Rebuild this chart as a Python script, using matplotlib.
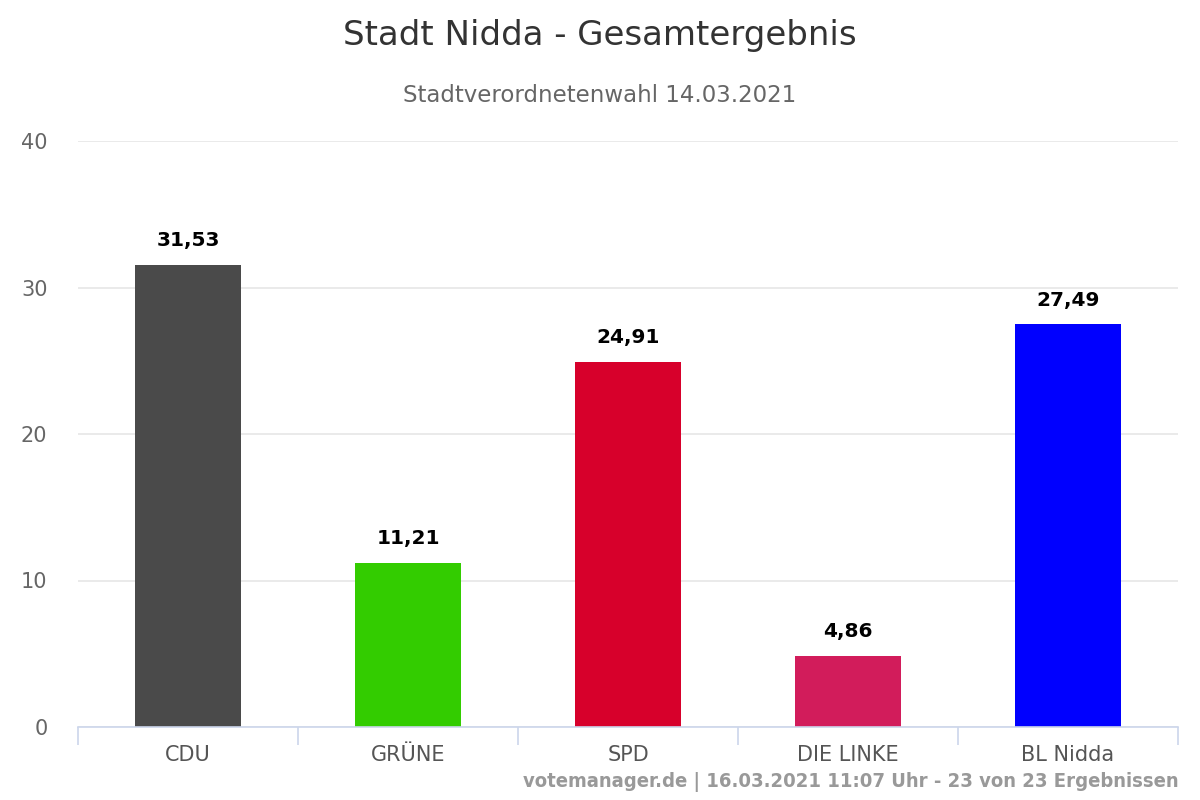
import numpy as np
import matplotlib.pyplot as plt

parteien = ['CDU', 'GRÜNE', 'SPD', 'DIE LINKE', 'BL Nidda']
werte = [31.53, 11.21, 24.91, 4.86, 27.49]
farben = ['#4a4a4a', '#33cc00', '#d7002b', '#d21c5b', '#0000ff']
y_ticks = [0, 10, 20, 30, 40]

plt.rcParams['font.family'] = ['DejaVu Sans']

fig = plt.figure(figsize=(12, 8), dpi=100)
ax = fig.add_axes([0.065, 0.09125, 0.9167, 0.7325])

x = np.arange(len(parteien))
bars = ax.bar(x, werte, width=0.48, color=farben, zorder=3)

# Beschriftung über den Balken
for b, v in zip(bars, werte):
    ax.text(b.get_x() + b.get_width() / 2, v + 1.0, f'{v:.2f}'.replace('.', ','),
            ha='center', va='bottom', fontsize=14.5, fontweight='bold', color='black')

ax.set_xlim(-0.5, len(parteien) - 0.5)
ax.set_ylim(0, 40)
ax.set_yticks(y_ticks)
ax.set_xticks(x)
ax.set_xticklabels(parteien, fontsize=15, color='#555555')
ax.set_xticks(np.arange(-0.5, len(parteien)), minor=True)
ax.tick_params(axis='x', which='major', length=0, pad=13)
ax.tick_params(axis='x', which='minor', length=13, color='#ccd6eb', width=1.2)
ax.tick_params(axis='y', length=0, labelsize=15, labelcolor='#666666', pad=22)

ax.grid(axis='y', color='#e6e6e6', linewidth=1.2, zorder=0)
for s in ['top', 'right', 'left']:
    ax.spines[s].set_visible(False)
ax.spines['bottom'].set_color('#ccd6eb')
ax.spines['bottom'].set_linewidth(1.2)
ax.spines['bottom'].set_zorder(4)

fig.text(0.5, 0.956, 'Stadt Nidda - Gesamtergebnis', ha='center', va='center',
         fontsize=24.5, color='#333333')
fig.text(0.5, 0.88, 'Stadtverordnetenwahl 14.03.2021', ha='center', va='center',
         fontsize=16.5, color='#666666')
fig.text(0.982, 0.022, 'votemanager.de | 16.03.2021 11:07 Uhr - 23 von 23 Ergebnissen',
         ha='right', va='center', fontsize=14.5, fontweight='bold', color='#999999',
         fontstretch='condensed')

fig.savefig('out.png', dpi=100)
